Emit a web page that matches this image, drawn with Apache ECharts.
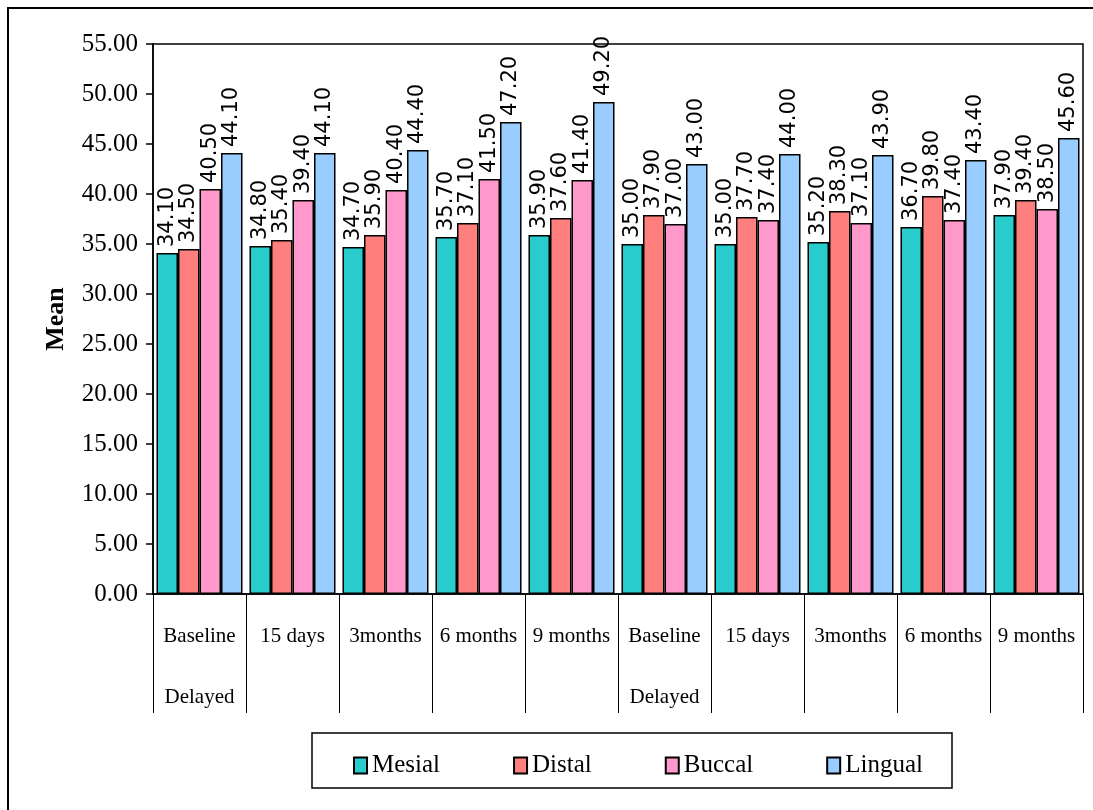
<!DOCTYPE html>
<html>
<head>
<meta charset="utf-8">
<script src="https://cdn.jsdelivr.net/npm/echarts@6/dist/echarts.min.js"></script>
<style>
  html, body { margin: 0; padding: 0; background: #fff; }
  #chart { width: 1093px; height: 810px; }
</style>
</head>
<body>
<div id="chart"></div>
<script>
// Time points (two groups of five)
const categories = [
  'Baseline\nDelayed', '15 days', '3months', '6 months', '9 months',
  'Baseline\nDelayed', '15 days', '3months', '6 months', '9 months'
];
const seriesNames = ['Mesial', 'Distal', 'Buccal', 'Lingual'];
const mesial  = [34.10, 34.80, 34.70, 35.70, 35.90, 35.00, 35.00, 35.20, 36.70, 37.90];
const distal  = [34.50, 35.40, 35.90, 37.10, 37.60, 37.90, 37.70, 38.30, 39.80, 39.40];
const buccal  = [40.50, 39.40, 40.40, 41.50, 41.40, 37.00, 37.40, 37.10, 37.40, 38.50];
const lingual = [44.10, 44.10, 44.40, 47.20, 49.20, 43.00, 44.00, 43.90, 43.40, 45.60];
const colors = ['#29CCCC', '#FF7F7F', '#FF99CC', '#99CCFF'];

const serif = 'Liberation Serif';
const sans = 'DejaVu Sans';

const chart = echarts.init(document.getElementById('chart'), null, { renderer: 'canvas' });

function barSeries(name, data, color) {
  return {
    name: name,
    type: 'bar',
    data: data,
    barGap: '0%',
    barCategoryGap: '7.5%',
    itemStyle: { color: color, borderColor: '#000', borderWidth: 1.5 },
    label: {
      show: true,
      position: 'top',
      rotate: 90,
      align: 'left',
      verticalAlign: 'middle',
      distance: 6,
      color: '#000',
      fontFamily: sans,
      fontSize: 21,
      formatter: p => p.value.toFixed(2)
    }
  };
}

chart.setOption({
  animation: false,
  backgroundColor: '#fff',
  grid: {
    left: 153, top: 44, right: 10, bottom: 216,
    show: true, borderColor: '#000', borderWidth: 1.5, backgroundColor: 'transparent'
  },
  xAxis: {
    type: 'category',
    data: categories,
    boundaryGap: true,
    axisLine: { lineStyle: { color: '#000', width: 1.5 } },
    axisTick: { show: true, interval: 0, length: 119, lineStyle: { color: '#000', width: 1 } },
    axisLabel: {
      interval: 0,
      margin: 12,
      color: '#000',
      fontFamily: serif,
      fontSize: 21,
      lineHeight: 61
    }
  },
  yAxis: {
    type: 'value',
    min: 0, max: 55, interval: 5,
    name: 'Mean',
    nameLocation: 'middle',
    nameGap: 84,
    nameTextStyle: { fontFamily: serif, fontSize: 26, fontWeight: 'bold', color: '#000' },
    axisLine: { show: true, lineStyle: { color: '#000', width: 1.5 } },
    axisTick: { show: true, length: 7, lineStyle: { color: '#000', width: 1.5 } },
    splitLine: { show: false },
    axisLabel: {
      margin: 15,
      color: '#000',
      fontFamily: serif,
      fontSize: 25,
      formatter: v => v.toFixed(2)
    }
  },
  legend: {
    data: seriesNames,
    icon: 'rect',
    left: 348,
    top: 748,
    itemWidth: 13,
    itemHeight: 16,
    itemGap: 73,
    textStyle: { fontFamily: serif, fontSize: 25, color: '#000' }
  },
  graphic: [
    {
      type: 'polyline',
      shape: { points: [[8, 810], [8, 8], [1093, 8]] },
      style: { stroke: '#000', lineWidth: 2, fill: null }
    },
    {
      type: 'rect',
      shape: { x: 312, y: 733, width: 640, height: 55 },
      style: { stroke: '#000', lineWidth: 1.5, fill: null }
    }
  ],
  series: [
    barSeries(seriesNames[0], mesial, colors[0]),
    barSeries(seriesNames[1], distal, colors[1]),
    barSeries(seriesNames[2], buccal, colors[2]),
    barSeries(seriesNames[3], lingual, colors[3])
  ]
});
</script>
</body>
</html>
